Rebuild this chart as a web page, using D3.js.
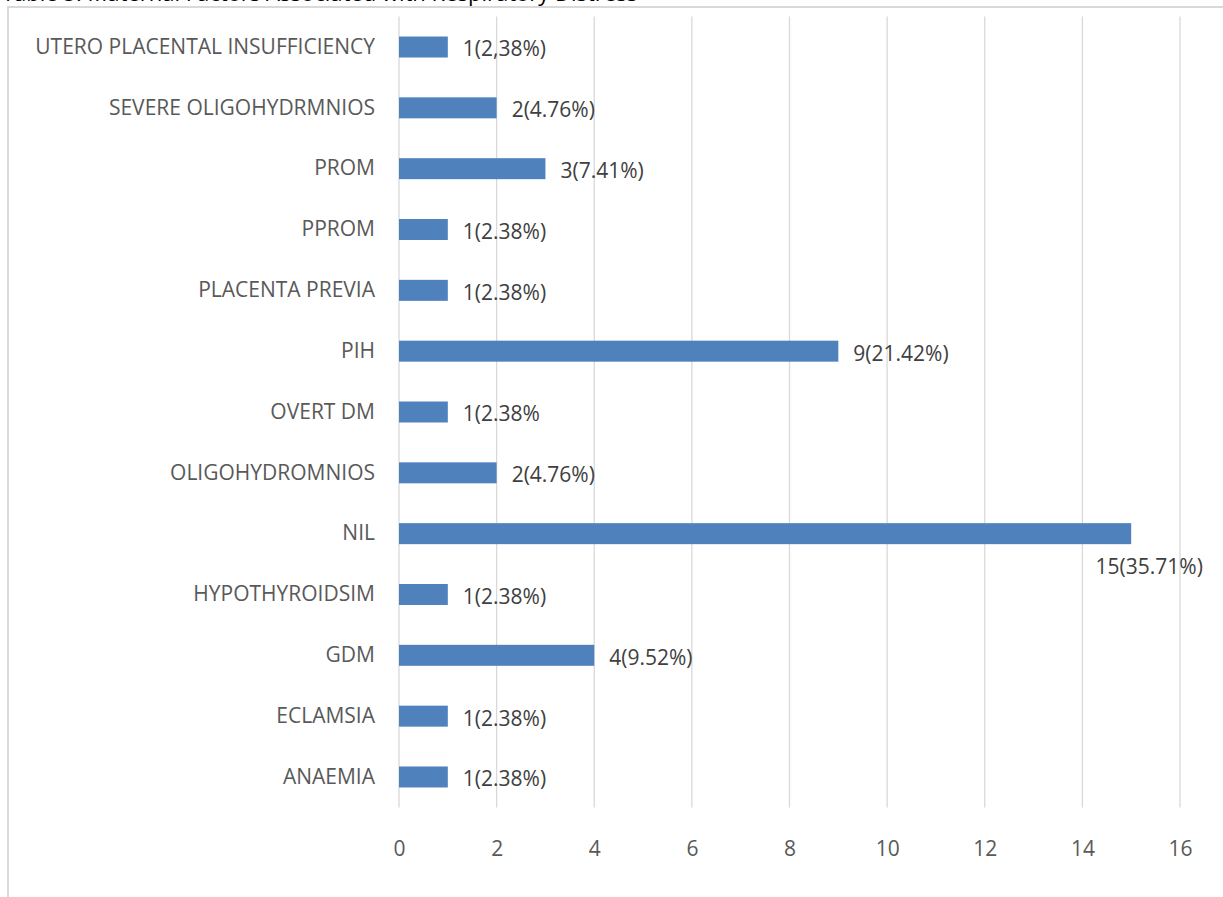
<!DOCTYPE html>
<html>
<head>
<meta charset="utf-8">
<script src="https://cdn.jsdelivr.net/npm/d3@7"></script>
<style>
  html, body { margin: 0; padding: 0; background: #fff; overflow: hidden; }
  svg { display: block; }
</style>
</head>
<body>
<svg id="chart" width="1223" height="897"></svg>
<script>
// Maternal factors, listed top to bottom as shown
const categories = [
  "UTERO PLACENTAL INSUFFICIENCY",
  "SEVERE OLIGOHYDRMNIOS",
  "PROM",
  "PPROM",
  "PLACENTA PREVIA",
  "PIH",
  "OVERT DM",
  "OLIGOHYDROMNIOS",
  "NIL",
  "HYPOTHYROIDSIM",
  "GDM",
  "ECLAMSIA",
  "ANAEMIA"
];
const counts = [1, 2, 3, 1, 1, 9, 1, 2, 15, 1, 4, 1, 1];
const valueLabels = [
  "1(2,38%)", "2(4.76%)", "3(7.41%)", "1(2.38%)", "1(2.38%)", "9(21.42%)",
  "1(2.38%", "2(4.76%)", "15(35.71%)", "1(2.38%)", "4(9.52%)", "1(2.38%)", "1(2.38%)"
];
const xTicks = [0, 2, 4, 6, 8, 10, 12, 14, 16];
const titleText = "Table 5: Maternal Factors Associated with Respiratory Distress";

const svg = d3.select("#chart");
const font = "'Open Sans', 'DejaVu Sans', sans-serif";
const fs = 21;

// Title line, mostly above the visible area
svg.append("text")
  .attr("x", 2).attr("y", 0.5)
  .attr("font-family", font).attr("font-size", 22)
  .attr("fill", "#000")
  .text(titleText);

// Chart frame
svg.append("rect")
  .attr("x", 8).attr("y", 7)
  .attr("width", 1240).attr("height", 920)
  .attr("fill", "none").attr("stroke", "#d9d9d9").attr("stroke-width", 2);

const plot = { left: 399, right: 1180, top: 16.6, bottom: 807.4 };

const x = d3.scaleLinear().domain([0, 16]).range([plot.left, plot.right]);
const y = d3.scaleBand().domain(categories).range([plot.top, plot.bottom])
  .paddingInner(0.655).paddingOuter(0.3275);

// Vertical gridlines
svg.append("g").selectAll("line").data(xTicks).join("line")
  .attr("x1", d => x(d)).attr("x2", d => x(d))
  .attr("y1", plot.top).attr("y2", plot.bottom)
  .attr("stroke", "#d9d9d9").attr("stroke-width", 1.3);

// Bars
svg.append("g").selectAll("rect").data(categories).join("rect")
  .attr("x", x(0))
  .attr("y", d => y(d))
  .attr("width", (d, i) => x(counts[i]) - x(0))
  .attr("height", y.bandwidth())
  .attr("fill", "#4f81bd");

// X axis tick labels
const xAxis = d3.axisBottom(x).tickValues(xTicks).tickSize(0).tickPadding(0);
const gx = svg.append("g").attr("transform", `translate(0, ${plot.bottom + 41})`).call(xAxis);
gx.select(".domain").remove();
gx.selectAll("text")
  .attr("font-family", font).attr("font-size", fs).attr("fill", "#595959")
  .attr("dy", "0.35em");

// Category labels
const yAxis = d3.axisLeft(y).tickSize(0).tickPadding(24);
const gy = svg.append("g").attr("transform", `translate(${plot.left}, 0)`).call(yAxis);
gy.select(".domain").remove();
gy.selectAll("text")
  .attr("font-family", font).attr("font-size", fs).attr("fill", "#595959");

// Value labels at the outside end of each bar; the longest one sits below its bar
svg.append("g").selectAll("text").data(categories).join("text")
  .attr("font-family", font).attr("font-size", fs).attr("fill", "#404040")
  .attr("x", (d, i) => counts[i] >= 15 ? x(counts[i]) + 18 : x(counts[i]) + 15)
  .attr("y", (d, i) => counts[i] >= 15 ? y(d) + y.bandwidth() / 2 + 33 : y(d) + y.bandwidth() / 2 + 2)
  .attr("dy", "0.35em")
  .attr("text-anchor", (d, i) => counts[i] >= 15 ? "middle" : "start")
  .text((d, i) => valueLabels[i]);
</script>
</body>
</html>
